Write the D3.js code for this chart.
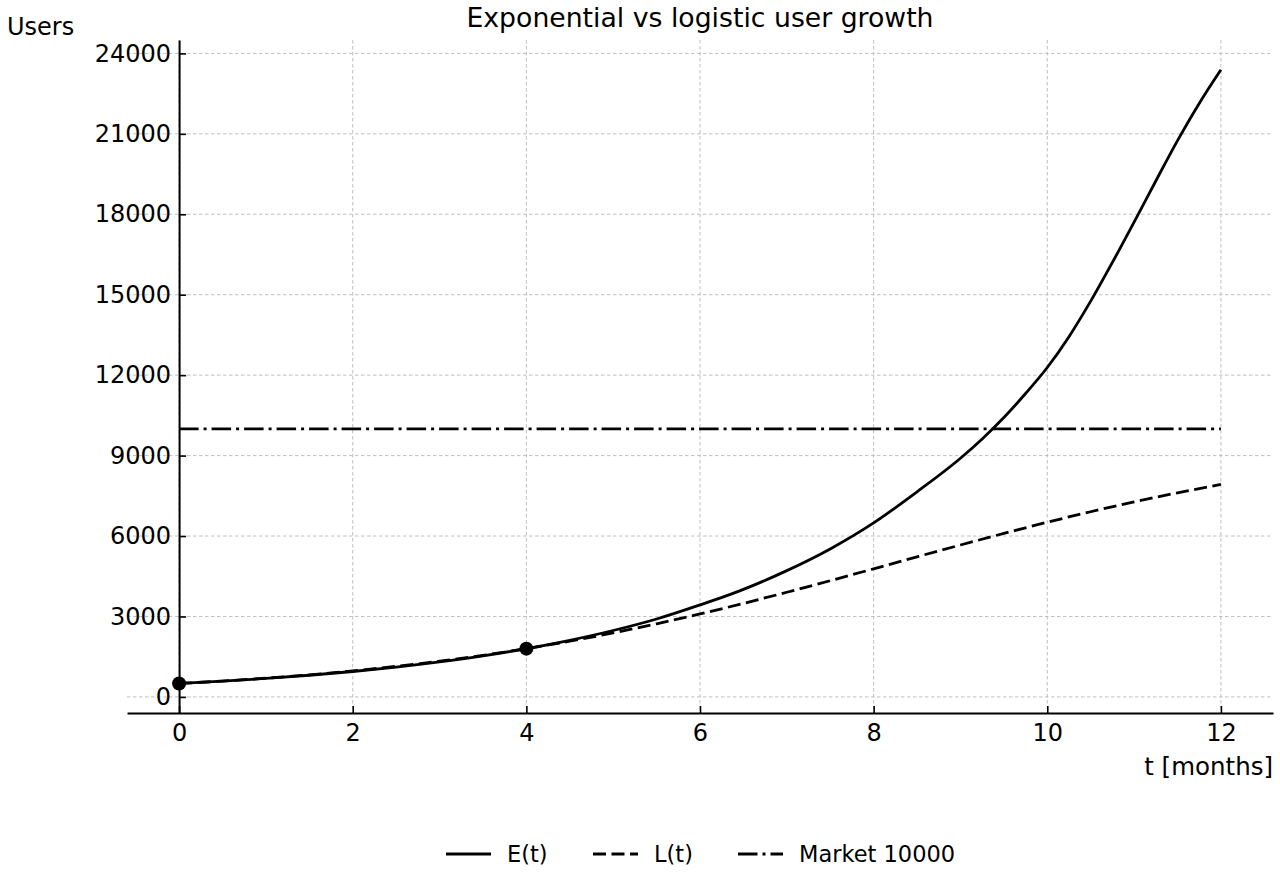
<!DOCTYPE html>
<html>
<head>
<meta charset="utf-8">
<script src="https://cdn.jsdelivr.net/npm/d3@7"></script>
<style>
  body { margin: 0; background: #fff; }
  svg { font-family: "DejaVu Sans", sans-serif; }
</style>
</head>
<body>
<svg id="chart" width="1280" height="880"></svg>
<script>
// values; E(t) is read more finely where it turns steep
var expMonths = [0, 0.5, 1, 1.5, 2, 2.5, 3, 3.5, 4, 4.5, 5, 5.5, 6, 6.5, 7, 7.5, 8, 8.5,
                 9, 9.25, 9.5, 9.75, 10, 10.25, 10.5, 10.75, 11, 11.25, 11.5, 11.75, 12];
var expUsers = [500, 587, 690, 808, 948, 1113, 1306, 1532, 1800, 2112, 2477, 2906, 3430, 4010, 4710, 5520, 6490, 7650,
                8900, 9620, 10420, 11316, 12285, 13435, 14760, 16204, 17710, 19241, 20747, 22135, 23390];
var logMonths = [0, 0.5, 1, 1.5, 2, 2.5, 3, 3.5, 4, 4.5, 5, 5.5, 6, 6.5, 7, 7.5, 8, 8.5, 9, 9.5, 10, 10.5, 11, 11.5, 12];
var logUsers = [500, 592, 699, 825, 971, 1139, 1331, 1551, 1800, 2078, 2387, 2727, 3094, 3488, 3903, 4334, 4778, 5225, 5666, 6097, 6514, 6906, 7273, 7611, 7923];
var marketCap = 10000;
var markerMonths = [0, 4];
var markerUsers = [500, 1800];
var xTicks = [0, 2, 4, 6, 8, 10, 12];
var yTicks = [0, 3000, 6000, 9000, 12000, 15000, 18000, 21000, 24000];
var legendNames = ["E(t)", "L(t)", "Market 10000"];

(function() {
    var svg = d3.select("#chart");
    var plotLeft = 127, plotRight = 1273, plotTop = 40, plotBottom = 713;

    var x = d3.scaleLinear().domain([-0.6, 12.6]).range([plotLeft, plotRight]);
    var y = d3.scaleLinear().domain([-600, 24500]).range([plotBottom, plotTop]);

    // grid
    var grid = svg.append("g")
        .attr("stroke", "#b8b8b8")
        .attr("stroke-width", 0.9)
        .attr("stroke-dasharray", "3.5,2.5");
    grid.selectAll("line.v")
        .data(xTicks)
        .enter()
        .append("line")
        .attr("class", "v")
        .attr("x1", function(d) { return x(d); })
        .attr("x2", function(d) { return x(d); })
        .attr("y1", plotTop)
        .attr("y2", plotBottom);
    grid.selectAll("line.h")
        .data(yTicks)
        .enter()
        .append("line")
        .attr("class", "h")
        .attr("x1", plotLeft)
        .attr("x2", plotRight)
        .attr("y1", function(d) { return y(d); })
        .attr("y2", function(d) { return y(d); });

    // axes: ticks point inwards, y spine sits at t = 0
    var xAxis = d3.axisBottom(x).tickValues(xTicks).tickSizeInner(-7).tickSizeOuter(0).tickPadding(11);
    var yAxis = d3.axisLeft(y).tickValues(yTicks).tickSizeInner(-7).tickSizeOuter(0).tickPadding(8)
        .tickFormat(d3.format("d"));

    var gx = svg.append("g").attr("transform", "translate(0," + plotBottom + ")").call(xAxis);
    var gy = svg.append("g").attr("transform", "translate(" + x(0) + ",0)").call(yAxis);
    [gx, gy].forEach(function(g) {
        g.select(".domain").attr("stroke", "#000").attr("stroke-width", 2);
        g.selectAll(".tick line").attr("stroke", "#000").attr("stroke-width", 1.6);
        g.selectAll(".tick text").attr("fill", "#000").style("font-size", "24px")
            .style("font-family", "DejaVu Sans");
    });
    gx.selectAll(".tick text").attr("dy", "0.71em");

    // series
    var line = d3.line()
        .x(function(d) { return x(d[0]); })
        .y(function(d) { return y(d[1]); })
        .curve(d3.curveMonotoneX);

    var curves = svg.append("g").attr("fill", "none").attr("stroke", "#000").attr("stroke-width", 2.8);
    curves.append("path")
        .attr("d", line(d3.zip(logMonths, logUsers)))
        .attr("stroke-dasharray", "13,5.5");
    curves.append("path")
        .attr("d", line(d3.zip(expMonths, expUsers)));
    curves.append("line")
        .attr("x1", x(logMonths[0]))
        .attr("x2", x(logMonths[logMonths.length - 1]))
        .attr("y1", y(marketCap))
        .attr("y2", y(marketCap))
        .attr("stroke-dasharray", "19.5,5,3,5");

    svg.append("g").selectAll("circle")
        .data(d3.zip(markerMonths, markerUsers))
        .enter()
        .append("circle")
        .attr("cx", function(d) { return x(d[0]); })
        .attr("cy", function(d) { return y(d[1]); })
        .attr("r", 7)
        .attr("fill", "#000");

    // labels
    svg.append("text")
        .attr("x", (plotLeft + plotRight) / 2)
        .attr("y", 27)
        .attr("text-anchor", "middle")
        .style("font-size", "26.7px")
        .text("Exponential vs logistic user growth");
    svg.append("text")
        .attr("x", 7)
        .attr("y", 35)
        .style("font-size", "24px")
        .text("Users");
    svg.append("text")
        .attr("x", plotRight)
        .attr("y", 775)
        .attr("text-anchor", "end")
        .style("font-size", "24.5px")
        .text("t [months]");

    // legend
    var dashes = [null, "13,5.5", "19.5,5,3,5"];
    var legendX = [446, 593, 738];
    var legend = svg.append("g");
    legendNames.forEach(function(name, i) {
        legend.append("line")
            .attr("x1", legendX[i])
            .attr("x2", legendX[i] + 45)
            .attr("y1", 854)
            .attr("y2", 854)
            .attr("stroke", "#000")
            .attr("stroke-width", 2.8)
            .attr("stroke-dasharray", dashes[i]);
        legend.append("text")
            .attr("x", legendX[i] + 61)
            .attr("y", 862)
            .style("font-size", "22.5px")
            .text(name);
    });
})();
</script>
</body>
</html>
